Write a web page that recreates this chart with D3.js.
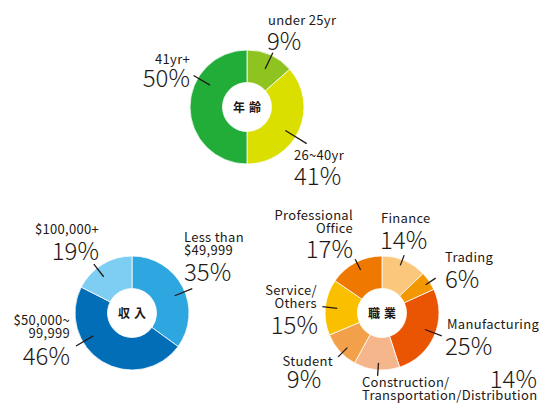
<!DOCTYPE html>
<html>
<head>
    <meta charset="utf-8">
    <title>Donuts with D3.js</title>
    <script src="https://d3js.org/d3.v7.min.js"></script>
    <style>
        body { margin: 0; background: #fff; }
        text { font-family: "Noto Sans CJK JP", "Noto Sans", sans-serif; fill: #231815; }
    </style>
</head>
<body>
    <script>
        // age
        const ageNames = ["under 25yr", "26~40yr", "41yr+"];
        const agePct = ["9%", "41%", "50%"];
        const ageShare = [13.5, 36.5, 50];   // slice sizes as drawn
        const ageColors = ["#8fc31f", "#dadf00", "#22ac38"];

        // income
        const incomeNames = ["Less than\n$49,999", "$50,000~\n99,999", "$100,000+"];
        const incomePct = ["35%", "46%", "19%"];
        const incomeShare = [35, 47.5, 17.5];
        const incomeColors = ["#2ea7e0", "#036eb8", "#7ecef4"];

        // occupation
        const jobNames = ["Finance", "Trading", "Manufacturing", "Construction/\nTransportation/Distribution",
                          "Student", "Service/\nOthers", "Professional\nOffice"];
        const jobPct = ["14%", "6%", "25%", "14%", "9%", "15%", "17%"];
        const jobShare = [12.8, 5.4, 26.8, 13, 10.7, 15.9, 15.4];
        const jobColors = ["#fac77d", "#f39800", "#ea5504", "#f6b68b", "#f2a14a", "#fac000", "#ee7800"];

        const width = 539, height = 405;
        const outerR = 57, innerR = 24.5;

        const svg = d3.select("body")
          .append("svg")
            .attr("width", width)
            .attr("height", height);

        // label layout: leader angle (deg), leader radii, name/pct offsets from centre
        const charts = [
          { title: "年齢", cx: 247, cy: 107, names: ageNames, pct: agePct, share: ageShare, colors: ageColors,
            layout: [
              { a: 25.5, r0: 42, r1: 60, name: [21, -82, "start"], pctPos: [20, -57, "start"] },
              { a: 121.5, r0: 45, r1: 70, name: [47, 53, "start"], pctPos: [47, 78, "start"] },
              { a: 300.5, r0: 43, r1: 62, name: [-57, -43, "end"], pctPos: [-57, -20, "end"] }
            ] },
          { title: "収入", cx: 132, cy: 313, names: incomeNames, pct: incomePct, share: incomeShare, colors: incomeColors,
            layout: [
              { a: 68, r0: 46, r1: 65, name: [52, -71, "start"], pctPos: [52, -32, "start"] },
              { a: 239.5, r0: 45, r1: 65, name: [-62, 12, "end"], pctPos: [-62, 52, "end"] },
              { a: 322, r0: 46, r1: 62, name: [-33, -79, "end"], pctPos: [-33, -53, "end"] }
            ] },
          { title: "職業", cx: 382, cy: 313, names: jobNames, pct: jobPct, share: jobShare, colors: jobColors,
            layout: [
              { a: 21, r0: 51, r1: 62, name: [-1, -90, "start"], pctPos: [-2, -64, "start"] },
              { a: 57, r0: 52, r1: 64, name: [63, -51, "start"], pctPos: [63, -25, "start"] },
              { a: 111, r0: 46, r1: 64, name: [65, 16, "start"], pctPos: [63, 42, "start"] },
              { a: 184, r0: 50, r1: 63, name: [-20, 74, "start"], pctPos: [155, 75, "end"] },
              { a: 225, r0: 49, r1: 62, name: [-49, 53, "end"], pctPos: [-78, 75, "middle"] },
              { a: 276, r0: 45, r1: 60, name: [-65, -18, "end"], pctPos: [-64, 21, "end"] },
              { a: 333.5, r0: 48, r1: 60, name: [-29, -93, "end"], pctPos: [-29, -55, "end"] }
            ] }
        ];

        const pie = d3.pie().sort(null).value(d => d);
        const arc = d3.arc().innerRadius(innerR).outerRadius(outerR);
        const rad = Math.PI / 180;

        charts.forEach(c => {
            const g = svg.append("g").attr("transform", `translate(${c.cx},${c.cy})`);

            g.selectAll("path")
              .data(pie(c.share))
              .join("path")
                .attr("d", arc)
                .attr("fill", (d, i) => c.colors[i])
                .attr("stroke", "#fff")
                .attr("stroke-width", 0.8);

            g.append("text")
                .attr("text-anchor", "middle")
                .attr("x", 2)
                .attr("y", 4.5)
                .style("font-size", "12px")
                .style("font-weight", "bold")
                .style("letter-spacing", "4px")
                .text(c.title);

            c.layout.forEach((l, i) => {
                const p0 = d3.pointRadial(l.a * rad, l.r0);
                const p1 = d3.pointRadial(l.a * rad, l.r1);
                g.append("line")
                    .attr("x1", p0[0]).attr("y1", p0[1])
                    .attr("x2", p1[0]).attr("y2", p1[1])
                    .attr("stroke", "#231815")
                    .attr("stroke-width", 1.3);

                const lines = c.names[i].split("\n");
                const t = g.append("text")
                    .attr("text-anchor", l.name[2])
                    .style("font-size", "13px")
                    .style("letter-spacing", "0.3px");
                lines.forEach((s, k) => {
                    t.append("tspan")
                        .attr("x", l.name[0])
                        .attr("y", l.name[1] + k * 13)
                        .text(s);
                });

                g.append("text")
                    .attr("x", l.pctPos[0])
                    .attr("y", l.pctPos[1])
                    .attr("text-anchor", l.pctPos[2])
                    .style("font-size", "24px")
                    .style("font-weight", 300)
                    .text(c.pct[i]);
            });
        });
    </script>
</body>
</html>
